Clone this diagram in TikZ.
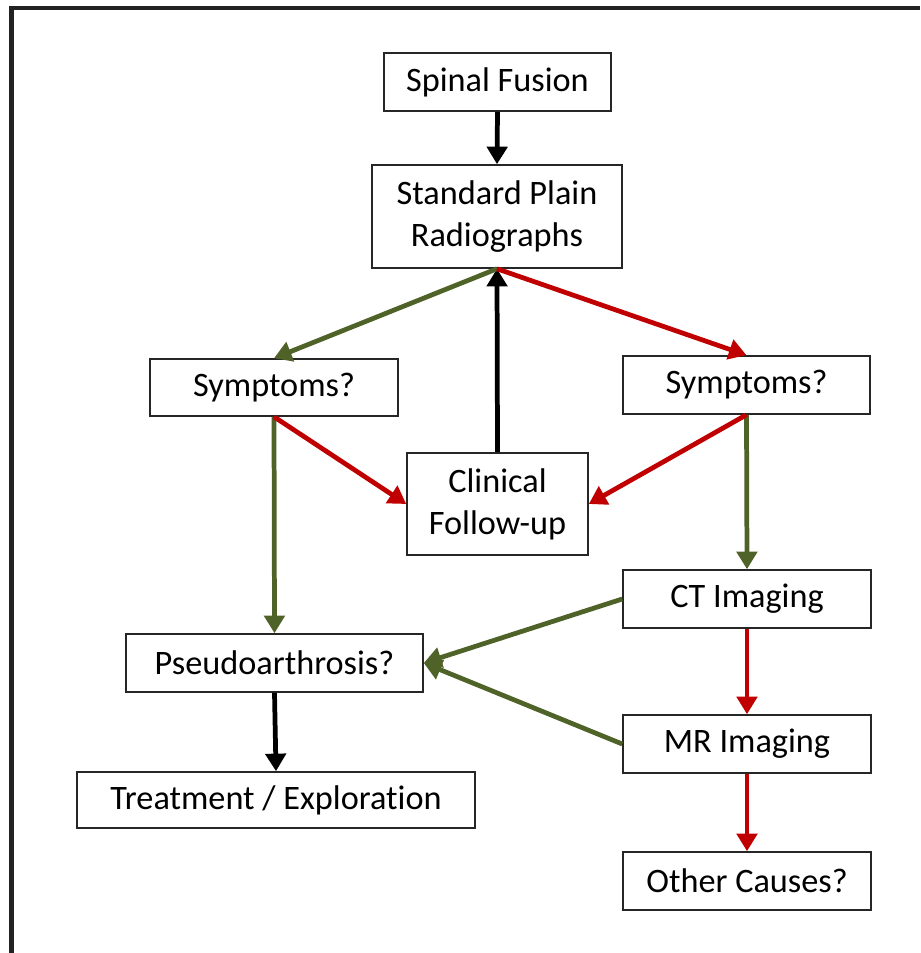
\documentclass[tikz,border=0pt]{standalone}
\usepackage{fontspec}
\setmainfont{Carlito}[Ligatures=NoCommon]
\usepackage{tikz}
\usetikzlibrary{arrows.meta}
\definecolor{framegray}{HTML}{222222}
\definecolor{fusegreen}{HTML}{4F6228}
\definecolor{fusered}{HTML}{C00000}
\tikzset{
    box/.style={draw=black!85,line width=0.9pt,fill=white,inner sep=0pt,align=center,
        font=\fontsize{19.5}{24}\selectfont},
    every edge/.style={draw,line width=2.7pt,-{Triangle[length=10pt,width=11.5pt]}},
    blkarrow/.style={draw=black},
    grnarrow/.style={draw=fusegreen,fill=fusegreen},
    redarrow/.style={draw=fusered,fill=fusered},
}
\begin{document}
\begin{tikzpicture}[x=0.02cm,y=-0.02cm]
    \useasboundingbox (0,0) rectangle (920,953);
    \draw[framegray,line width=2.3pt] (11.5,953) -- (11.5,8) -- (920,8);
    % boxes
    \node[box,minimum width=4.54cm,minimum height=1.16cm] (fusion) at (497.5,82) {Spinal Fusion};
    \node[box,minimum width=5cm,minimum height=2.06cm] (radio) at (497,216.5) {Standard Plain\\Radiographs};
    \node[box,minimum width=4.96cm,minimum height=1.14cm] (symL) at (274,387.5) {Symptoms?};
    \node[box,minimum width=4.94cm,minimum height=1.16cm] (symR) at (746.5,385) {Symptoms?};
    \node[box,minimum width=3.62cm,minimum height=2.04cm] (follow) at (497.5,504) {Clinical\\Follow-up};
    \node[box,minimum width=4.96cm,minimum height=1.16cm] (ct) at (747,599) {CT Imaging};
    \node[box,minimum width=5.94cm,minimum height=1.16cm] (pseudo) at (274.5,663) {Pseudoarthrosis?};
    \node[box,minimum width=4.96cm,minimum height=1.16cm] (mr) at (747,744) {MR Imaging};
    \node[box,minimum width=7.96cm,minimum height=1.12cm] (treat) at (276,800) {Treatment / Exploration};
    \node[box,minimum width=4.96cm,minimum height=1.16cm] (other) at (747,881) {Other Causes?};
    % connectors
    \path (fusion.south) edge[blkarrow] (radio.north)
          (follow.north) edge[blkarrow] (radio.south)
          (pseudo.south) edge[blkarrow] (treat.north);
    \path (radio.south) edge[grnarrow] (symL.north)
          (symL.south) edge[grnarrow] (pseudo.north)
          (symR.south) edge[grnarrow] (ct.north)
          (ct.west) edge[grnarrow] (pseudo.east)
          (mr.west) edge[grnarrow] (pseudo.east);
    \path (radio.south) edge[redarrow] (symR.north)
          (symL.south) edge[redarrow] (follow.west)
          (symR.south) edge[redarrow] (follow.east)
          (ct.south) edge[redarrow] (mr.north)
          (mr.south) edge[redarrow] (other.north);
\end{tikzpicture}
\end{document}
